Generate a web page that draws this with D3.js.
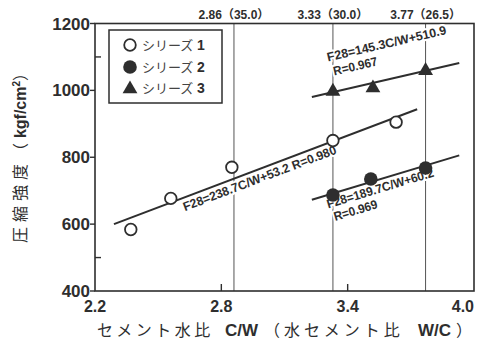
<!DOCTYPE html>
<html>
<head>
<meta charset="utf-8">
<script src="https://cdn.jsdelivr.net/npm/d3@7"></script>
<style>
  body { margin: 0; background: #fff; }
  svg { display: block; }
</style>
</head>
<body>
<svg width="483" height="341"></svg>
<script>
// Data
const series1CW = [2.37, 2.56, 2.85, 3.33, 3.63];
const series1F = [584, 677, 770, 850, 905];
const series2CW = [3.33, 3.51, 3.77];
const series2F = [687, 735, 768];
const series3CW = [3.33, 3.52, 3.77];
const series3F = [1000, 1010, 1062];
const seriesNames = ['シリーズ', 'シリーズ', 'シリーズ'];
const seriesNums = ['1', '2', '3'];

// Regression lines F28 = a*C/W + b
const fitSlope = [238.7, 189.7, 145.3];
const fitIntercept = [53.2, 60.2, 510.9];
const fitFrom = [2.29, 3.23, 3.23];
const fitTo = [3.73, 3.93, 3.93];
const fitText = [
  ['F28=238.7C/W+53.2 R=0.980'],
  ['F28=189.7C/W+60.2', 'R=0.969'],
  ['F28=145.3C/W+510.9', 'R=0.967']
];
const fitTextAt = [2.605, 3.29, 3.34];

// Reference C/W lines (with W/C in brackets)
const refCW = [2.86, 3.33, 3.77];
const refWC = ['35.0', '30.0', '26.5'];

const xTicks = [2.2, 2.8, 3.4, 4.0];
const yTicks = [400, 600, 800, 1000, 1200];
const yMinor = [500, 1100];

const ink = '#2e2e2e';
const latin = '"Liberation Sans", Arial, "Noto Sans CJK JP", sans-serif';
const cjk = '"Noto Sans CJK JP", "Liberation Sans", sans-serif';

const svg = d3.select('svg');
const x = d3.scaleLinear().domain([2.2, 4.0]).range([95, 474]);
const y = d3.scaleLinear().domain([400, 1200]).range([291, 23.5]);

// Reference vertical lines
refCW.forEach((c, i) => {
  svg.append('line')
    .attr('x1', x(c)).attr('x2', x(c))
    .attr('y1', y(1200)).attr('y2', y(400))
    .attr('stroke', '#555').attr('stroke-width', 1);
  svg.append('text')
    .attr('x', x(c)).attr('y', 19)
    .attr('text-anchor', 'middle')
    .attr('font-family', latin).attr('font-weight', 'bold')
    .attr('font-size', 12).attr('fill', ink)
    .text(`${c.toFixed(2)}（${refWC[i]}）`);
});

// Frame
svg.append('rect')
  .attr('x', x(2.2)).attr('y', y(1200))
  .attr('width', x(4.0) - x(2.2)).attr('height', y(400) - y(1200))
  .attr('fill', 'none').attr('stroke', ink).attr('stroke-width', 1.6);

// Y ticks and labels
yTicks.forEach(v => {
  svg.append('line')
    .attr('x1', x(2.2) - 5).attr('x2', x(2.2))
    .attr('y1', y(v)).attr('y2', y(v))
    .attr('stroke', ink).attr('stroke-width', 1.4);
  svg.append('text')
    .attr('x', 90).attr('y', y(v) + 6)
    .attr('text-anchor', 'end')
    .attr('font-family', latin).attr('font-weight', 'bold')
    .attr('font-size', 17).attr('fill', ink)
    .text(v);
});
yMinor.forEach(v => {
  svg.append('line')
    .attr('x1', x(2.2)).attr('x2', x(2.2) + 6)
    .attr('y1', y(v)).attr('y2', y(v))
    .attr('stroke', ink).attr('stroke-width', 1.4);
});

// X ticks and labels
xTicks.forEach((v, i) => {
  const last = i === xTicks.length - 1;
  if (i > 0 && !last) {
    svg.append('line')
      .attr('x1', x(v)).attr('x2', x(v))
      .attr('y1', y(400)).attr('y2', y(400) - 7)
      .attr('stroke', ink).attr('stroke-width', 1.4);
  }
  svg.append('text')
    .attr('x', x(v)).attr('y', 312)
    .attr('text-anchor', last ? 'end' : 'middle')
    .attr('font-family', latin).attr('font-weight', 'bold')
    .attr('font-size', 16).attr('fill', ink)
    .text(v.toFixed(1));
});

// Axis titles
const xt = svg.append('text')
  .attr('y', 336).attr('font-size', 16).attr('fill', ink);
xt.append('tspan').attr('x', 97).attr('font-family', cjk)
  .attr('letter-spacing', 3.5).text('セメント水比');
xt.append('tspan').attr('x', 225).attr('font-family', latin).attr('font-weight', 'bold')
  .attr('font-size', 17).text('C/W');
xt.append('tspan').attr('x', 264).attr('font-family', cjk)
  .attr('letter-spacing', 4).text('（水セメント比');
xt.append('tspan').attr('x', 418).attr('font-family', latin).attr('font-weight', 'bold')
  .attr('font-size', 17).text('W/C');
xt.append('tspan').attr('x', 456).attr('font-family', cjk).text('）');

const yt = svg.append('text')
  .attr('transform', 'translate(26,154) rotate(-90)')
  .attr('text-anchor', 'middle')
  .attr('font-size', 16).attr('fill', ink);
yt.append('tspan').attr('font-family', cjk).attr('letter-spacing', 5).text('圧縮強度（');
yt.append('tspan').attr('font-family', latin).attr('font-weight', 'bold').text('kgf/cm');
yt.append('tspan').attr('font-family', latin).attr('font-weight', 'bold')
  .attr('font-size', 10).attr('dy', -6).text('2');
yt.append('tspan').attr('font-family', cjk).attr('dy', 6).text('）');

// Regression lines and equations
const fitLen = [[163, 0], [111, 45], [122, 45]];
fitSlope.forEach((a, i) => {
  const f = c => a * c + fitIntercept[i];
  svg.append('line')
    .attr('x1', x(fitFrom[i])).attr('y1', y(f(fitFrom[i])))
    .attr('x2', x(fitTo[i])).attr('y2', y(f(fitTo[i])))
    .attr('stroke', ink).attr('stroke-width', 2);

  const ang = Math.atan2(y(f(3)) - y(f(4)), x(4) - x(3)) * 180 / Math.PI;
  const c0 = fitTextAt[i];
  const g = svg.append('g')
    .attr('transform', `translate(${x(c0)},${y(f(c0))}) rotate(${-ang})`);
  const offs = i === 2 ? [-31, -16] : [13, 27];
  fitText[i].forEach((t, j) => {
    g.append('text')
      .attr('x', j === 1 ? 3 : 0).attr('y', offs[j])
      .attr('font-family', latin).attr('font-weight', 'bold')
      .attr('font-size', 12.5).attr('fill', ink)
      .attr('textLength', fitLen[i][j]).attr('lengthAdjust', 'spacingAndGlyphs')
      .attr('stroke', '#fff').attr('stroke-width', 4).attr('paint-order', 'stroke')
      .attr('stroke-linejoin', 'round')
      .text(t);
  });
});

// Markers
const tri = d3.symbol().type(d3.symbolTriangle).size(95);
function drawMarker(sel, k, cx, cy) {
  if (k === 0) {
    sel.append('circle').attr('cx', cx).attr('cy', cy).attr('r', 5.8)
      .attr('fill', '#fff').attr('stroke', ink).attr('stroke-width', 1.8);
  } else if (k === 1) {
    sel.append('circle').attr('cx', cx).attr('cy', cy).attr('r', 6.8)
      .attr('fill', ink);
  } else {
    sel.append('path').attr('d', tri)
      .attr('transform', `translate(${cx},${cy + 1})`)
      .attr('fill', ink);
  }
}
const allCW = [series1CW, series2CW, series3CW];
const allF = [series1F, series2F, series3F];
allCW.forEach((cws, k) => {
  cws.forEach((c, j) => drawMarker(svg, k, x(c), y(allF[k][j])));
});

// Legend
svg.append('rect')
  .attr('x', 109).attr('y', 30).attr('width', 113).attr('height', 73)
  .attr('fill', '#fff').attr('stroke', ink).attr('stroke-width', 1.5);
const legRows = [45, 67, 88];
seriesNames.forEach((n, k) => {
  drawMarker(svg, k, 130, legRows[k]);
  const t = svg.append('text')
    .attr('x', 142).attr('y', legRows[k] + 5)
    .attr('font-size', 13).attr('fill', '#444');
  t.append('tspan').attr('font-family', cjk).text(n);
  t.append('tspan').attr('x', 197).attr('font-family', latin)
    .attr('font-weight', 'bold').attr('font-size', 14).attr('fill', ink).text(seriesNums[k]);
});
</script>
</body>
</html>
